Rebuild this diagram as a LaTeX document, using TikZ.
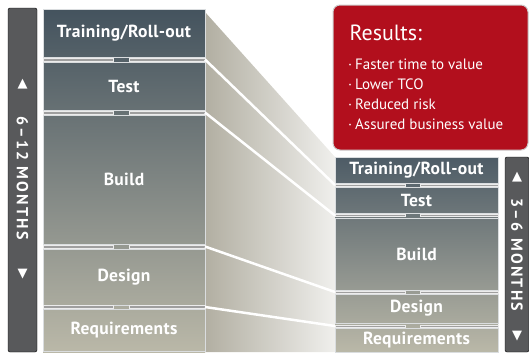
\documentclass[tikz,border=0pt]{standalone}
\usepackage{fontspec}
\setmainfont{PT Sans}
\newfontfamily\symfont{DejaVu Sans}
\definecolor{slate}{HTML}{44535E}
\definecolor{sand}{HTML}{BAB8A8}
\definecolor{bargray}{HTML}{58595B}
\definecolor{resred}{HTML}{B20F1D}
\definecolor{shadegray}{HTML}{B2AFA2}
\tikzset{
  phase/.style={draw=white!80!slate, line width=0.7pt, text=white, inner sep=0pt,
    font=\bfseries\fontsize{17.5}{18}\selectfont\addfontfeature{LetterSpace=2}},
  sepbar/.style={fill=gray!75, draw=white!85!gray, line width=0.6pt},
  monthbar/.style={fill=bargray, rounded corners=2pt},
  monthtext/.style={text=white, rotate=-90, font=\bfseries\fontsize{16}{16}\selectfont\addfontfeature{LetterSpace=14}},
  arrowmark/.style={text=white, font=\symfont\fontsize{13}{13}\selectfont},
  link/.style={white, line width=2.5pt}
}
\begin{document}
\begin{tikzpicture}[x=1pt,y=-1pt]
  \useasboundingbox (0,0) rectangle (529,356);
  % shade between the two stacks
  \shade[left color=shadegray, right color=white!80!shadegray]
    (205,12) -- (335,157) -- (335,352) -- (205,352) -- cycle;
  % left stack
  \shade[top color=slate, bottom color=sand] (43,9) rectangle (205,352);
  \draw (124,33) node[phase, minimum width=162, minimum height=48](ltrain){Training/Roll-out};
  \draw (124,86) node[phase, minimum width=162, minimum height=48](ltest){Test};
  \draw (124,179.5) node[phase, minimum width=162, minimum height=129](lbuild){Build};
  \draw (124,277) node[phase, minimum width=162, minimum height=56](ldesign){Design};
  \draw (124,330) node[phase, minimum width=162, minimum height=42](lreq){Requirements};
  % right stack
  \shade[top color=slate!95!white, bottom color=sand] (335,157) rectangle (498,352);
  \draw (416.5,170) node[phase, minimum width=163, minimum height=26](rtrain){Training/Roll-out};
  \draw (416.5,200) node[phase, minimum width=163, minimum height=26](rtest){Test};
  \draw (416.5,254) node[phase, minimum width=163, minimum height=72](rbuild){Build};
  \draw (416.5,308.5) node[phase, minimum width=163, minimum height=29](rdesign){Design};
  \draw (416.5,340) node[phase, minimum width=163, minimum height=24](rreq){Requirements};
  % separators
  \foreach \y [count=\i] in {59.5,112.5,246.5,307} {
    \draw[sepbar] (43,\y-1.3) rectangle (113,\y+1.3);
    \draw[sepbar] (129,\y-1.3) rectangle (205,\y+1.3);
    \coordinate (ls\i) at (205,\y);
  }
  \foreach \y [count=\i] in {185,215.5,292,326} {
    \draw[sepbar] (335,\y-1.1) rectangle (405,\y+1.1);
    \draw[sepbar] (420,\y-1.1) rectangle (498,\y+1.1);
    \coordinate (rs\i) at (335,\y);
  }
  % links
  \foreach \i in {1,...,4}
    \draw[link] (ls\i) -- (rs\i);
  % month bars
  \draw[monthbar] (8,8) rectangle (37,352);
  \draw (22.5,84) node[arrowmark](lup){▲};
  \draw (22.5,178) node[monthtext](lmonths){6–12 MONTHS};
  \draw (22.5,274) node[arrowmark](ldown){▼};
  \draw[monthbar] (505,157) rectangle (529,352);
  \draw (517,177) node[arrowmark](rup){▲};
  \draw (517,255) node[monthtext](rmonths){3–6 MONTHS};
  \draw (517,336) node[arrowmark](rdown){▼};
  % results
  \draw[fill=resred, draw=gray!40, line width=1pt, rounded corners=7pt] (333,5) rectangle (528,150);
  \draw (346,33) node[right, text=white, font=\fontsize{22}{22}\selectfont](restitle){Results:};
  \draw (348,59) node[below right, inner sep=0pt, text=white, align=left, font=\fontsize{15}{20}\selectfont](reslist)
    {·\hspace{3pt}Faster time to value\\ ·\hspace{3pt}Lower TCO\\ ·\hspace{3pt}Reduced risk\\ ·\hspace{3pt}Assured business value};
\end{tikzpicture}
\end{document}
